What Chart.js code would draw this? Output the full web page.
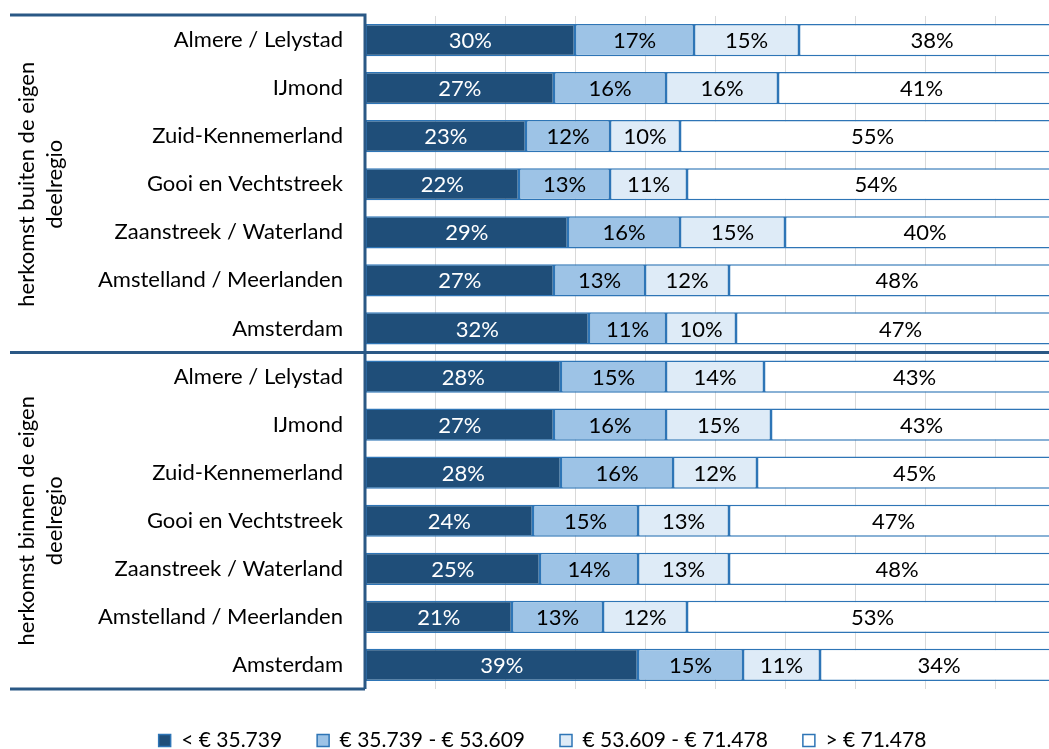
<!DOCTYPE html>
<html>
<head>
<meta charset="utf-8">
<script src="https://cdn.jsdelivr.net/npm/chart.js@4.4.1/dist/chart.umd.min.js"></script>
<style>
    html, body { margin: 0; padding: 0; background: #fff; overflow: hidden; }
    #wrap { position: relative; width: 1072px; height: 761px; }
</style>
</head>
<body>
<div id="wrap"><canvas id="chart"></canvas></div>
<script>
// ---------------- Data ----------------
const regions = [
    'Almere / Lelystad', 'IJmond', 'Zuid-Kennemerland', 'Gooi en Vechtstreek',
    'Zaanstreek / Waterland', 'Amstelland / Meerlanden', 'Amsterdam'
];
const groupNames = [
    ['herkomst buiten de eigen', 'deelregio'],
    ['herkomst binnen de eigen', 'deelregio']
];
const categories = regions.concat(regions);

const seriesLabels = ['< € 35.739', '€ 35.739 - € 53.609', '€ 53.609 - € 71.478', '> € 71.478'];

// buiten (7 rows) followed by binnen (7 rows)
const incomeLow     = [30, 27, 23, 22, 29, 27, 32,   28, 27, 28, 24, 25, 21, 39];
const incomeMidLow  = [17, 16, 12, 13, 16, 13, 11,   15, 16, 16, 15, 14, 13, 15];
const incomeMidHigh = [15, 16, 10, 11, 15, 12, 10,   14, 15, 12, 13, 13, 12, 11];
const incomeHigh    = [38, 41, 55, 54, 40, 48, 47,   43, 43, 45, 47, 48, 53, 34];

const xTicks = [0, 10, 20, 30, 40, 50, 60, 70, 80, 90, 100];

// ---------------- Styles ----------------
const fillColors = ['#1f4e79', '#9dc3e6', '#deebf7', '#ffffff'];
const barBorder = '#2e75b6';
const frameColor = '#2a5885';
const FONT = 'Lato, "Liberation Sans", sans-serif';

// ---------------- Plugins ----------------
const segmentLabels = {
    id: 'segmentLabels',
    afterDatasetsDraw(chart) {
        const ctx = chart.ctx;
        ctx.save();
        ctx.font = '22px ' + FONT;
        ctx.textAlign = 'center';
        ctx.textBaseline = 'middle';
        chart.data.datasets.forEach((ds, i) => {
            const meta = chart.getDatasetMeta(i);
            ctx.fillStyle = i === 0 ? '#ffffff' : '#000000';
            meta.data.forEach((bar, j) => {
                const cx = (bar.x + bar.base) / 2;
                ctx.fillText(ds.data[j] + '%', cx, bar.y + 1);
            });
        });
        ctx.restore();
    }
};

const groupFrame = {
    id: 'groupFrame',
    afterDraw(chart) {
        const ctx = chart.ctx;
        const area = chart.chartArea;
        const y = chart.scales.y;
        const half = regions.length;
        const mid = (y.getPixelForValue(half - 1) + y.getPixelForValue(half)) / 2;
        const leftEdge = 10;

        ctx.save();
        ctx.strokeStyle = frameColor;
        ctx.lineWidth = 3;
        ctx.beginPath();
        ctx.moveTo(leftEdge, area.top - 1);
        ctx.lineTo(area.left, area.top - 1);
        ctx.lineTo(area.left, area.bottom);
        ctx.moveTo(leftEdge, area.bottom);
        ctx.lineTo(area.left, area.bottom);
        ctx.moveTo(leftEdge, mid);
        ctx.lineTo(area.right, mid);
        ctx.stroke();

        // rotated group titles
        ctx.fillStyle = '#000';
        ctx.font = '22px ' + FONT;
        ctx.textAlign = 'center';
        ctx.textBaseline = 'middle';
        const centers = [(area.top + mid) / 2, (mid + area.bottom) / 2];
        centers.forEach((cy, g) => {
            ctx.save();
            ctx.translate(27, cy);
            ctx.rotate(-Math.PI / 2);
            ctx.fillText(groupNames[g][0], 0, 0);
            ctx.fillText(groupNames[g][1], 0, 28);
            ctx.restore();
        });
        ctx.restore();
    }
};

// ---------------- Chart ----------------
const datasets = [incomeLow, incomeMidLow, incomeMidHigh, incomeHigh].map((values, i) => ({
    label: seriesLabels[i],
    data: values,
    backgroundColor: fillColors[i],
    borderColor: barBorder,
    borderWidth: 1.5,
    borderSkipped: false,
    barPercentage: 0.67,
    categoryPercentage: 1
}));

new Chart(document.getElementById('chart'), {
    type: 'bar',
    data: { labels: categories, datasets: datasets },
    options: {
        indexAxis: 'y',
        responsive: true,
        maintainAspectRatio: false,
        animation: false,
        layout: { padding: { top: 16, right: 7, left: 20, bottom: 0 } },
        scales: {
            x: {
                stacked: true,
                min: 0,
                max: 100,
                afterBuildTicks: (scale) => { scale.ticks = xTicks.map(v => ({ value: v })); },
                ticks: { display: false },
                grid: { color: '#d9d9d9', lineWidth: 1, drawTicks: false },
                border: { display: false },
                afterFit: (scale) => { scale.height = 6; }
            },
            y: {
                stacked: true,
                grid: { display: false, drawTicks: false },
                border: { display: false },
                ticks: { color: '#000', padding: 22, font: { family: FONT, size: 22 } },
                afterFit: (scale) => {
                    scale.width = 345;
                    scale.paddingTop = 0;
                    scale.paddingBottom = 0;
                }
            }
        },
        plugins: {
            legend: {
                position: 'bottom',
                labels: {
                    color: '#000',
                    boxWidth: 12,
                    boxHeight: 12,
                    padding: 35,
                    font: { family: FONT, size: 21 }
                }
            },
            tooltip: { enabled: false }
        }
    },
    plugins: [segmentLabels, groupFrame]
});
</script>
</body>
</html>
